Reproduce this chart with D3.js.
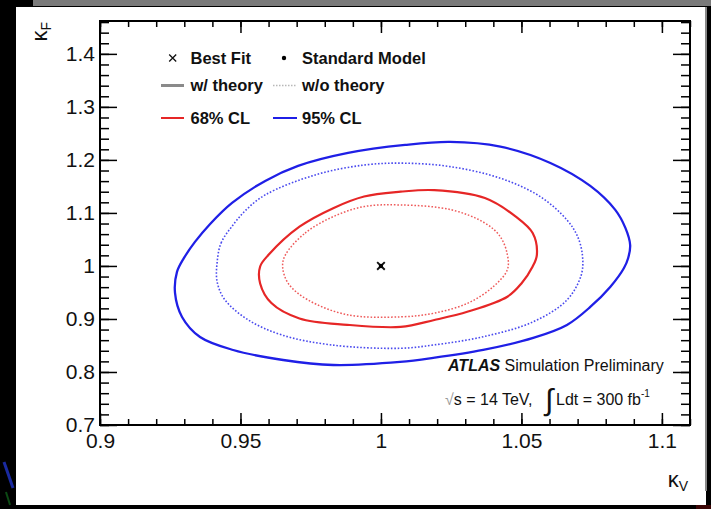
<!DOCTYPE html>
<html>
<head>
<meta charset="utf-8">
<script src="https://cdn.jsdelivr.net/npm/d3@7"></script>
<style>
  body { margin: 0; background: #000; }
  svg { display: block; }
  text { font-family: "Liberation Sans", Arial, Helvetica, sans-serif; }
</style>
</head>
<body>
<svg id="chart" width="711" height="509"></svg>
<script>
// Axis ranges and ticks
const xDomain = [0.9, 1.11];
const yDomain = [0.7, 1.462];
const xMajorTicks = [0.9, 0.95, 1.0, 1.05, 1.1];
const xTickLabels = ["0.9", "0.95", "1", "1.05", "1.1"];
const yMajorTicks = [0.7, 0.8, 0.9, 1.0, 1.1, 1.2, 1.3, 1.4];
const yTickLabels = ["0.7", "0.8", "0.9", "1", "1.1", "1.2", "1.3", "1.4"];

// Best fit and Standard Model point (kappa_V, kappa_F)
const bestFit = [1.0, 1.0];
const standardModel = [1.0, 1.0];

// Likelihood contours (kappa_V, kappa_F)
const cl95Theory = [
  [0.9267, 0.9491], [0.9274, 0.9887], [0.9299, 1.0151], [0.9338, 1.0453], [0.9392, 1.0792],
  [0.9470, 1.1189], [0.9588, 1.1604], [0.9705, 1.1887], [0.9883, 1.2132], [1.0086, 1.2283],
  [1.0246, 1.2340], [1.0425, 1.2251], [1.0603, 1.1943], [1.0745, 1.1509], [1.0834, 1.1057],
  [1.0870, 1.0717], [1.0887, 1.0396], [1.0880, 1.0151], [1.0865, 0.9962], [1.0816, 0.9604],
  [1.0745, 0.9226], [1.0662, 0.8887], [1.0542, 0.8642], [1.0364, 0.8415], [1.0186, 0.8264],
  [1.0068, 0.8189], [0.9830, 0.8132], [0.9652, 0.8226], [0.9474, 0.8415], [0.9356, 0.8660],
  [0.9292, 0.9038]
];
const cl95NoTheory = [
  [0.9417, 1.0075], [0.9431, 1.0434], [0.9469, 1.0742], [0.9520, 1.1057], [0.9588, 1.1340],
  [0.9766, 1.1717], [0.9944, 1.1906], [1.0086, 1.1938], [1.0246, 1.1874], [1.0425, 1.1655],
  [1.0567, 1.1308], [1.0662, 1.0868], [1.0699, 1.0566], [1.0717, 1.0208], [1.0713, 0.9830],
  [1.0662, 0.9358], [1.0543, 0.8949], [1.0365, 0.8666], [1.0187, 0.8509], [1.0068, 0.8447],
  [0.9825, 0.8509], [0.9647, 0.8698], [0.9528, 0.8981], [0.9445, 0.9358], [0.9417, 0.9698]
];
const cl68Theory = [
  [0.960, 1.021], [0.971, 1.074], [0.983, 1.109], [0.994, 1.131], [1.007, 1.140],
  [1.019, 1.143], [1.037, 1.128], [1.048, 1.093], [1.054, 1.062], [1.0555, 1.021],
  [1.054, 0.999], [1.050, 0.967], [1.045, 0.942], [1.031, 0.914], [1.019, 0.898],
  [1.007, 0.885], [0.988, 0.889], [0.971, 0.901], [0.961, 0.930], [0.957, 0.967],
  [0.957, 0.999]
];
const cl68NoTheory = [
  [0.966, 1.021], [0.973, 1.062], [0.983, 1.093], [0.994, 1.112], [1.007, 1.115],
  [1.025, 1.106], [1.037, 1.081], [1.0425, 1.055], [1.045, 1.021], [1.045, 0.993],
  [1.040, 0.961], [1.031, 0.930], [1.019, 0.911], [1.007, 0.904], [0.988, 0.908],
  [0.974, 0.936], [0.967, 0.967], [0.965, 0.999]
];

const svg = d3.select("#chart");

// Canvas: white pad on a dark surround
svg.append("rect").attr("x", 0).attr("y", 0).attr("width", 711).attr("height", 509).attr("fill", "#000");
svg.append("rect").attr("x", 33).attr("y", 0).attr("width", 678).attr("height", 6).attr("fill", "#7a7a7a");
svg.append("rect").attr("x", 16).attr("y", 7).attr("width", 690).attr("height", 498).attr("fill", "#fff");
svg.append("rect").attr("x", 705).attr("y", 7).attr("width", 2).attr("height", 484).attr("fill", "#888");
svg.append("line").attr("x1", 4).attr("y1", 462).attr("x2", 13).attr("y2", 488)
  .attr("stroke", "#1a2aa0").attr("stroke-width", 3);
svg.append("line").attr("x1", 6).attr("y1", 492).attr("x2", 10).attr("y2", 505)
  .attr("stroke", "#0c4a14").attr("stroke-width", 2);
svg.append("rect").attr("x", 696).attr("y", 505).attr("width", 15).attr("height", 4).attr("fill", "#3a0606");

const padLeft = 100, padRight = 690, padTop = 21, padBottom = 425;
const x = d3.scaleLinear().domain(xDomain).range([padLeft, padRight]);
const y = d3.scaleLinear().domain(yDomain).range([padBottom, padTop]);

// Contours
const contourLine = d3.line().x(d => x(d[0])).y(d => y(d[1])).curve(d3.curveCatmullRomClosed.alpha(0.5));
const contours = [
  { pts: cl95Theory, color: "#1f1fe6", width: 2.3, dash: null },
  { pts: cl95NoTheory, color: "#4a4aee", width: 1.6, dash: "1.6 1.8" },
  { pts: cl68Theory, color: "#e62626", width: 2.2, dash: null },
  { pts: cl68NoTheory, color: "#ee5a5a", width: 1.5, dash: "1.6 1.8" }
];
contours.forEach(c => {
  svg.append("path").attr("d", contourLine(c.pts)).attr("fill", "none")
    .attr("stroke", c.color).attr("stroke-width", c.width)
    .attr("stroke-dasharray", c.dash);
});

// Axes with inward ticks on all four sides
function styleAxis(g) {
  g.select(".domain").remove();
  g.selectAll("line").attr("stroke", "#000").attr("stroke-width", 1.5);
}
const xMinor = d3.range(0.9, 1.1101, 0.01);
const yMinor = d3.range(0.7, 1.4601, 0.02);

svg.append("g").attr("transform", `translate(0,${padBottom})`)
  .call(d3.axisBottom(x).tickValues(xMinor).tickSize(-6).tickFormat("")).call(styleAxis);
svg.append("g").attr("transform", `translate(0,${padBottom})`)
  .call(d3.axisBottom(x).tickValues(xMajorTicks).tickSize(-12).tickPadding(8)
    .tickFormat((d, i) => xTickLabels[i])).call(styleAxis)
  .selectAll("text").attr("font-size", 21).attr("fill", "#111");
svg.append("g").attr("transform", `translate(0,${padTop})`)
  .call(d3.axisTop(x).tickValues(xMinor).tickSize(-6).tickFormat("")).call(styleAxis);
svg.append("g").attr("transform", `translate(0,${padTop})`)
  .call(d3.axisTop(x).tickValues(xMajorTicks).tickSize(-12).tickFormat("")).call(styleAxis);

svg.append("g").attr("transform", `translate(${padLeft},0)`)
  .call(d3.axisLeft(y).tickValues(yMinor).tickSize(-9).tickFormat("")).call(styleAxis);
svg.append("g").attr("transform", `translate(${padLeft},0)`)
  .call(d3.axisLeft(y).tickValues(yMajorTicks).tickSize(-17).tickPadding(5)
    .tickFormat((d, i) => yTickLabels[i])).call(styleAxis)
  .selectAll("text").attr("font-size", 21).attr("fill", "#111");
svg.append("g").attr("transform", `translate(${padRight},0)`)
  .call(d3.axisRight(y).tickValues(yMinor).tickSize(-9).tickFormat("")).call(styleAxis);
svg.append("g").attr("transform", `translate(${padRight},0)`)
  .call(d3.axisRight(y).tickValues(yMajorTicks).tickSize(-17).tickFormat("")).call(styleAxis);

// Frame
svg.append("rect").attr("x", padLeft).attr("y", padTop).attr("width", padRight - padLeft).attr("height", padBottom - padTop)
  .attr("fill", "none").attr("stroke", "#000").attr("stroke-width", 2);

// Axis titles
const xt = svg.append("text").attr("x", 688).attr("y", 487).attr("text-anchor", "end")
  .attr("font-size", 22).attr("fill", "#111");
xt.append("tspan").text("κ");
xt.append("tspan").attr("font-size", 14).attr("dy", 4).text("V");
const yt = svg.append("text").attr("transform", "translate(47,22) rotate(-90)").attr("text-anchor", "end")
  .attr("font-size", 22).attr("fill", "#111");
yt.append("tspan").text("κ");
yt.append("tspan").attr("font-size", 14).attr("dy", 4).text("F");

// Best fit (cross) and Standard Model (dot)
function cross(g, cx, cy, r, w) {
  g.append("path").attr("d", `M${cx - r},${cy - r}L${cx + r},${cy + r}M${cx - r},${cy + r}L${cx + r},${cy - r}`)
    .attr("stroke", "#111").attr("stroke-width", w);
}
cross(svg, x(bestFit[0]), y(bestFit[1]), 3.8, 1.9);
svg.append("circle").attr("cx", x(standardModel[0])).attr("cy", y(standardModel[1])).attr("r", 2.2).attr("fill", "#000");

// Legend
const legendFont = 16.5;
function legendText(tx, ty, s) {
  svg.append("text").attr("x", tx).attr("y", ty + 5.5).attr("font-size", legendFont)
    .attr("font-weight", "bold").attr("fill", "#111").text(s);
}
cross(svg, 172.7, 58, 3.5, 1.3);
legendText(190.5, 58, "Best Fit");
svg.append("circle").attr("cx", 284).attr("cy", 58).attr("r", 2.2).attr("fill", "#000");
legendText(302, 58, "Standard Model");

svg.append("line").attr("x1", 161).attr("x2", 184).attr("y1", 85.5).attr("y2", 85.5)
  .attr("stroke", "#8a8a8a").attr("stroke-width", 3);
legendText(190.5, 85.5, "w/ theory");
svg.append("line").attr("x1", 273).attr("x2", 297).attr("y1", 85.5).attr("y2", 85.5)
  .attr("stroke", "#b8b8b8").attr("stroke-width", 1.5).attr("stroke-dasharray", "1.5 1.5");
legendText(302, 85.5, "w/o theory");

svg.append("line").attr("x1", 161).attr("x2", 184).attr("y1", 118).attr("y2", 118)
  .attr("stroke", "#e62626").attr("stroke-width", 2);
legendText(190.5, 118, "68% CL");
svg.append("line").attr("x1", 273).attr("x2", 297).attr("y1", 118).attr("y2", 118)
  .attr("stroke", "#1f1fe6").attr("stroke-width", 2);
legendText(302, 118, "95% CL");

// Experiment label
const atlas = svg.append("text").attr("x", 448).attr("y", 371).attr("font-size", 16).attr("fill", "#111");
atlas.append("tspan").attr("font-weight", "bold").attr("font-style", "italic").text("ATLAS");
atlas.append("tspan").text(" Simulation Preliminary");

svg.append("text").attr("x", 445).attr("y", 405).attr("font-size", 16).attr("fill", "#111")
  .html('<tspan fill="#999">√</tspan>s = 14 TeV,');
svg.append("text").attr("x", 545).attr("y", 410).attr("font-size", 30).attr("fill", "#111")
  .attr("font-family", "DejaVu Sans").text("∫");
const lumi = svg.append("text").attr("x", 556).attr("y", 405).attr("font-size", 16).attr("fill", "#111");
lumi.append("tspan").text("Ldt = 300 fb");
lumi.append("tspan").attr("font-size", 10).attr("dy", -8).text("-1");
</script>
</body>
</html>
